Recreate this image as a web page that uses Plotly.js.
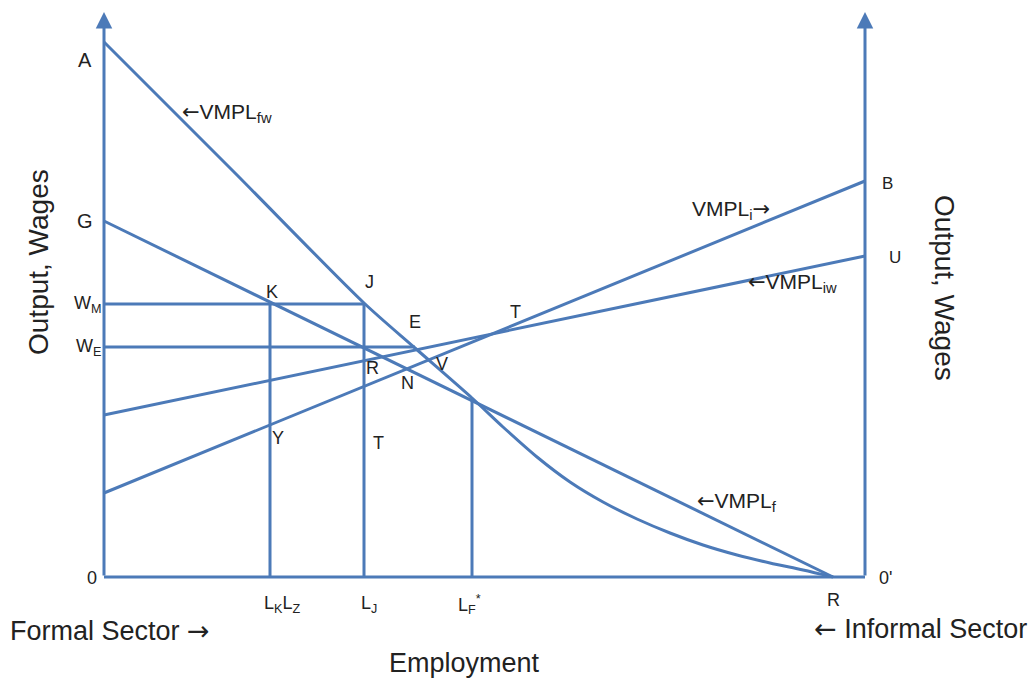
<!DOCTYPE html>
<html>
<head>
<meta charset="utf-8">
<script src="https://cdn.plot.ly/plotly-3.0.1.min.js"></script>
<style>
  html, body { margin: 0; padding: 0; background: #fff; }
  #chart { width: 1032px; height: 684px; }
</style>
</head>
<body>
<div id="chart"></div>
<script>
// dual-sector labour market diagram: formal sector from the left, informal from the right
const LINE = "#4C7AB8";
const FONT = "Arial, 'Liberation Sans', sans-serif";
const L_ARR = '<span style="font-family:DejaVu Sans">←</span>';
const R_ARR = '<span style="font-family:DejaVu Sans">→</span>';

// axis extents (employment runs 0..X_MAX, wages 0..Y_MAX)
const X_MAX = 761;
const Y_MAX = 565;

// formal sector curves (employment, wage)
const vmplfwX = [0, 130, 260, 311, 368, 399, 433, 466, 499, 533, 566, 599, 633, 666, 699, 729];
const vmplfwY = [535, 405, 274, 229, 179, 150, 120, 95, 75, 58, 44, 32, 22, 14, 7, 0];
const vmplfX  = [0, 729];
const vmplfY  = [356, 0];

// informal sector curves (measured from the same origin)
const vmpliwX = [0, 761];
const vmpliwY = [162, 321];
const vmpliX  = [0, 761];
const vmpliY  = [84, 396];

// wage levels and employment levels
const wageM = 273;
const wageE = 230;
const empK  = 166;
const empJ  = 260;
const empE  = 311;
const empF  = 368;
const wageF = 179;

const line = (x, y, shape) => ({
  type: "scatter", mode: "lines", x, y, hoverinfo: "skip",
  line: { color: LINE, width: 3, shape: shape || "linear", smoothing: 0.8 },
});

const traces = [
  line([0, X_MAX], [0, 0]),
  line(vmplfwX, vmplfwY, "spline"),
  line(vmplfX, vmplfY),
  line(vmpliwX, vmpliwY),
  line(vmpliX, vmpliY),
  line([0, empJ], [wageM, wageM]),
  line([0, empE], [wageE, wageE]),
  line([empK, empK], [0, wageM]),
  line([empJ, empJ], [0, wageM]),
  line([empF, empF], [0, wageF]),
];

// point labels: [text, x, y, size]
const labels = [
  ["A", -19, 517, 20], ["G", -19, 356, 20],
  ["W<sub>M</sub>", -16, 273, 18], ["W<sub>E</sub>", -16, 230, 18],
  ["K", 168, 285, 18], ["J", 265, 295, 18], ["E", 311, 255, 18],
  ["R", 268, 209, 18], ["N", 303, 194, 18], ["V", 338, 213, 18],
  ["Y", 174, 139, 18], ["T", 274, 134, 18], ["T", 411, 265, 18],
  ["B", 783, 394, 17], ["U", 791, 320, 17],
  ["0", -12, -1, 18], ["0'", 781, -1, 18], ["R", 729, -23, 18],
  ["L<sub>K</sub>L<sub>Z</sub>", 178, -27, 18], ["L<sub>J</sub>", 265, -27, 18],
  ["L<sub>F</sub><sup>*</sup>", 365, -27, 18],
];

// curve names: [text, x, y]
const curveNames = [
  [L_ARR + "VMPL<sub>fw</sub>", 76, 464],
  ["VMPL<sub>i</sub>" + R_ARR, 586, 367],
  [L_ARR + "VMPL<sub>iw</sub>", 642, 294],
  [L_ARR + "VMPL<sub>f</sub>", 591, 75],
];

const annotations = [];
labels.forEach(([t, x, y, s]) => annotations.push({
  text: t, x, y, xref: "x", yref: "y", showarrow: false,
  font: { family: FONT, size: s, color: "#222" },
}));
curveNames.forEach(([t, x, y]) => annotations.push({
  text: t, x, y, xref: "x", yref: "y", xanchor: "left", showarrow: false,
  font: { family: FONT, size: 21, color: "#222" },
}));

// axis arrows
[0, X_MAX].forEach(x => annotations.push({
  x, y: Y_MAX, ax: x, ay: 0, xref: "x", yref: "y", axref: "x", ayref: "y",
  text: "", showarrow: true, arrowhead: 2, arrowsize: 1.1, arrowwidth: 3, arrowcolor: LINE,
}));

// axis titles and sector captions
annotations.push(
  { text: "Output, Wages", x: -66, y: 315, textangle: -90, xref: "x", yref: "y", showarrow: false,
    font: { family: FONT, size: 28, color: "#222" } },
  { text: "Output, Wages", x: 841, y: 289, textangle: 90, xref: "x", yref: "y", showarrow: false,
    font: { family: FONT, size: 28, color: "#222" } },
  { text: "Employment", x: 360, y: -86, xref: "x", yref: "y", showarrow: false,
    font: { family: FONT, size: 27, color: "#222" } },
  { text: "Formal Sector " + R_ARR, x: -96, y: -53, xanchor: "left", xref: "x", yref: "y", showarrow: false,
    font: { family: FONT, size: 27, color: "#222" } },
  { text: L_ARR + " Informal Sector", x: 925, y: -51, xanchor: "right", xref: "x", yref: "y", showarrow: false,
    font: { family: FONT, size: 27, color: "#222" } },
);

Plotly.newPlot("chart", traces, {
  width: 1032, height: 684,
  margin: { t: 0, b: 0, l: 0, r: 0 },
  paper_bgcolor: "#fff", plot_bgcolor: "#fff",
  showlegend: false,
  xaxis: { range: [-104, 928], visible: false, fixedrange: true },
  yaxis: { range: [-107, 577], visible: false, fixedrange: true },
  annotations,
}, { displayModeBar: false, staticPlot: true });
</script>
</body>
</html>
